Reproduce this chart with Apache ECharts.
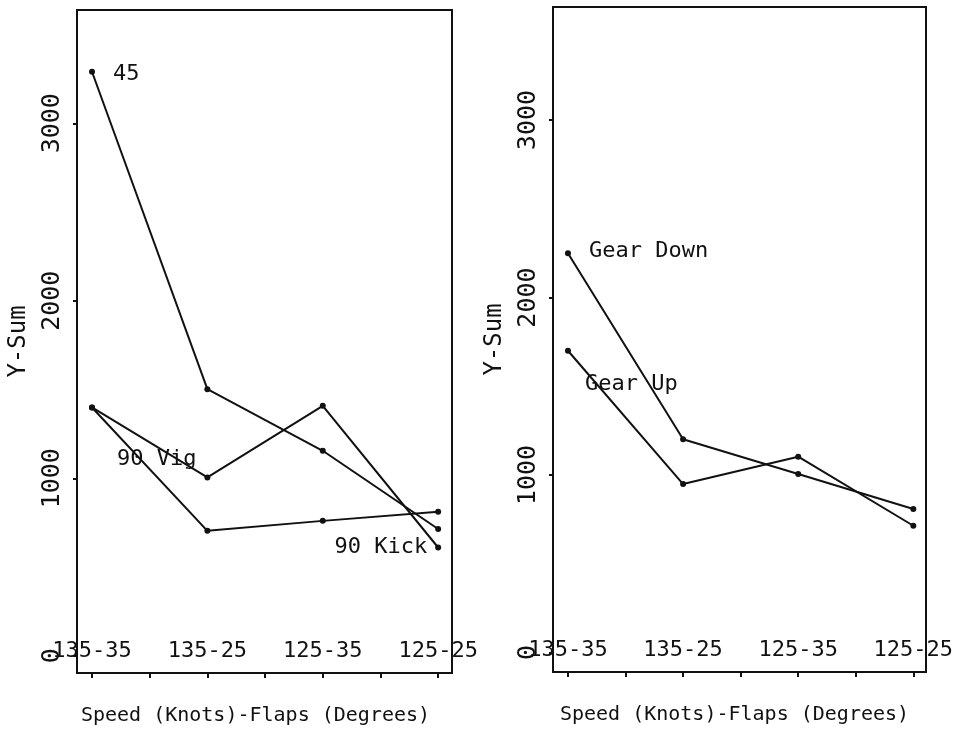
<!DOCTYPE html>
<html>
<head>
<meta charset="utf-8">
<script src="https://cdn.jsdelivr.net/npm/echarts@6/dist/echarts.min.js"></script>
<style>
  html, body { margin: 0; padding: 0; background: #fff; }
  #chart { width: 957px; height: 729px; }
</style>
</head>
<body>
<div id="chart"></div>
<script>
// speed-flaps settings along the bottom
const categories = ['135-35', '135-25', '125-35', '125-25'];
const categoryTicks = [0, 0.5, 1, 1.5, 2, 2.5, 3];
const yTicks = [0, 1000, 2000, 3000];

// left panel
const left45 = [3290, 1502, 1155, 714];
const left90Kick = [1399, 1005, 1408, 610];
const left90Vig = [1399, 704, 760, 811];

// right panel
const rightGearDown = [2249, 1201, 1006, 808];
const rightGearUp = [1700, 949, 1103, 714];

const FONT = 'DejaVu Sans Mono';
const INK = '#111';

const chart = echarts.init(document.getElementById('chart'), null, { renderer: 'canvas' });

const pairs = vals => vals.map((v, i) => [i, v]);

// put a text label on one point of a line
const withLabel = (vals, idx, label) => pairs(vals).map((p, i) => {
    if (i !== idx) return p;
    return { value: p, label: Object.assign({ show: true, color: INK, fontFamily: FONT, fontSize: 22 }, label) };
});

const xAxisFor = (gridIndex, min, max, namePad) => ({
    gridIndex,
    type: 'value',
    min,
    max,
    name: 'Speed (Knots)-Flaps (Degrees)',
    nameLocation: 'middle',
    nameGap: 33,
    nameTextStyle: { color: INK, fontFamily: FONT, fontSize: 20, padding: namePad },
    axisLine: { show: true, onZero: false, lineStyle: { color: INK, width: 2 } },
    axisTick: { show: true, customValues: categoryTicks, length: 5, lineStyle: { color: INK, width: 2 } },
    axisLabel: {
        inside: true,
        margin: 11,
        customValues: [0, 1, 2, 3],
        formatter: v => categories[Math.round(v)],
        color: INK, fontFamily: FONT, fontSize: 22
    },
    splitLine: { show: false }
});

const yAxisFor = (gridIndex, min, max) => ({
    gridIndex,
    type: 'value',
    min,
    max,
    name: 'Y-Sum',
    nameLocation: 'middle',
    nameGap: 46,
    nameTextStyle: { color: INK, fontFamily: FONT, fontSize: 24 },
    axisLine: { show: true, onZero: false, lineStyle: { color: INK, width: 2 } },
    axisTick: { show: true, customValues: yTicks, length: 4, lineStyle: { color: INK, width: 2 } },
    axisLabel: {
        customValues: yTicks,
        rotate: 90,
        margin: 12,
        formatter: v => String(v),
        color: INK, fontFamily: FONT, fontSize: 25
    },
    splitLine: { show: false }
});

const lineSeries = (xi, yi, data) => ({
    type: 'line',
    xAxisIndex: xi,
    yAxisIndex: yi,
    data,
    symbol: 'circle',
    symbolSize: 6,
    lineStyle: { color: INK, width: 2 },
    itemStyle: { color: INK },
    animation: false
});

chart.setOption({
    backgroundColor: '#fff',
    animation: false,
    grid: [
        { left: 77, top: 10, width: 375, height: 663, outerBoundsMode: 'none', show: true, borderColor: INK, borderWidth: 2 },
        { left: 553, top: 7, width: 373, height: 665, outerBoundsMode: 'none', show: true, borderColor: INK, borderWidth: 2 }
    ],
    xAxis: [
        xAxisFor(0, -0.13, 3.12, [0, 18, 0, 0]),
        xAxisFor(1, -0.13, 3.11, [0, 10, 0, 0])
    ],
    yAxis: [
        yAxisFor(0, -97, 3638),
        yAxisFor(1, -110, 3637)
    ],
    series: [
        lineSeries(0, 0, withLabel(left45, 0, { formatter: '45', position: 'right', distance: 18, offset: [0, 3] })),
        lineSeries(0, 0, withLabel(left90Kick, 3, { formatter: '90 Kick', position: 'left', distance: 8, offset: [0, 0] })),
        lineSeries(0, 0, withLabel(left90Vig, 0, { formatter: '90 Vig', position: 'right', distance: 22, offset: [0, 52] })),
        lineSeries(1, 1, withLabel(rightGearDown, 0, { formatter: 'Gear Down', position: 'right', distance: 18, offset: [0, -2] })),
        lineSeries(1, 1, withLabel(rightGearUp, 0, { formatter: 'Gear Up', position: 'right', distance: 14, offset: [0, 34] }))
    ]
});
</script>
</body>
</html>
